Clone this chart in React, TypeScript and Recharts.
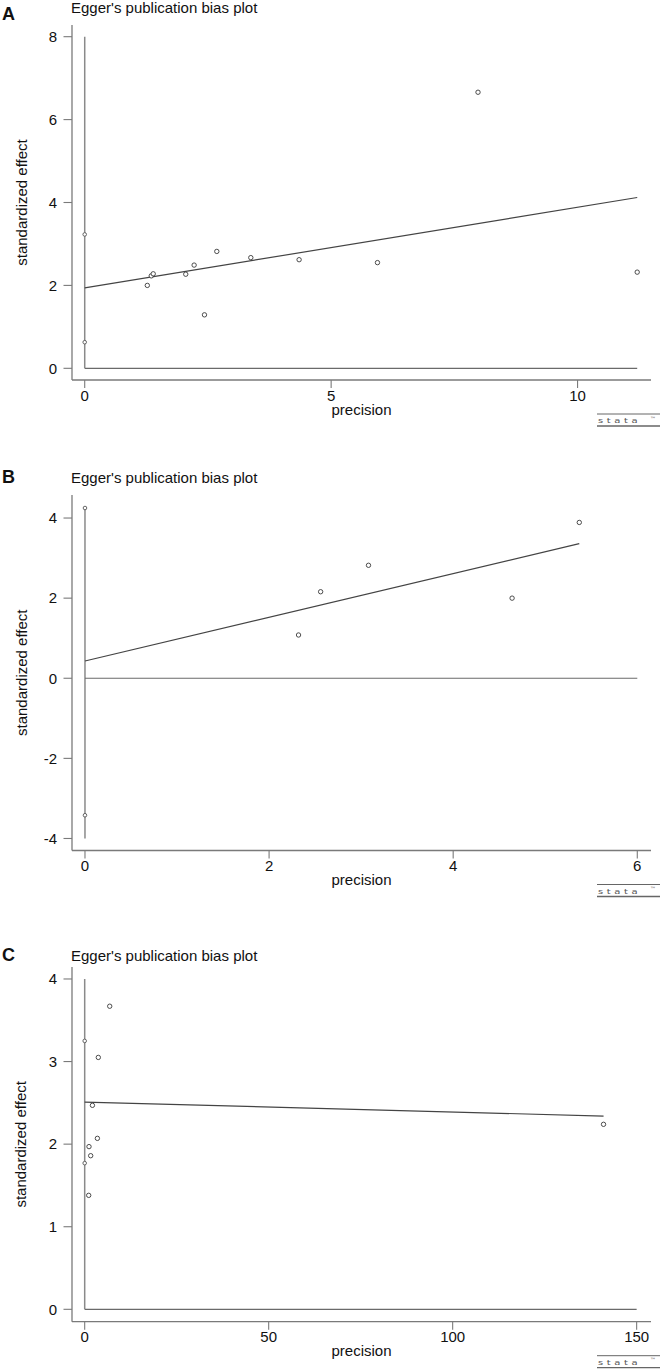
import React from 'react';
import { ScatterChart, Scatter, XAxis, YAxis, ReferenceLine } from 'recharts';

const FONT = '"Liberation Sans", Arial, Helvetica, sans-serif';
const AXIS = '#7a7a7a';

// Panel A
const aPrecision = [1.27, 1.35, 1.39, 2.05, 2.22, 2.43, 2.68, 3.37, 4.35, 5.94, 7.98, 11.21];
const aEffect = [2.0, 2.23, 2.28, 2.27, 2.49, 1.29, 2.82, 2.67, 2.62, 2.55, 6.66, 2.32];
const aCI = [0.63, 3.23];
const aFitX = [0, 11.21];
const aFitY = [1.94, 4.12];
const aXTicks = [0, 5, 10];
const aYTicks = [0, 2, 4, 6, 8];

// Panel B
const bPrecision = [2.32, 2.56, 3.08, 4.64, 5.37];
const bEffect = [1.08, 2.16, 2.82, 2.0, 3.89];
const bCI = [-3.42, 4.25];
const bFitX = [0, 5.37];
const bFitY = [0.43, 3.36];
const bXTicks = [0, 2, 4, 6];
const bYTicks = [-4, -2, 0, 2, 4];

// Panel C
const cPrecision = [6.8, 3.7, 2.1, 3.45, 1.17, 1.63, 1.09, 141];
const cEffect = [3.67, 3.05, 2.47, 2.07, 1.97, 1.86, 1.38, 2.24];
const cCI = [1.77, 3.25];
const cFitX = [0, 141];
const cFitY = [2.51, 2.34];
const cXTicks = [0, 50, 100, 150];
const cYTicks = [0, 1, 2, 3, 4];

const TITLE = "Egger's publication bias plot";

type Panel = {
  letter: string;
  chartTop: number;
  chartHeight: number;
  plotTop: number;
  plotBottom: number;
  titleBase: number;
  letterBase: number;
  xDomain: [number, number];
  yDomain: [number, number];
  xTicks: number[];
  yTicks: number[];
  precision: number[];
  effect: number[];
  ci: number[];
  fitX: number[];
  fitY: number[];
  vSpan: [number, number];
  hSpan: [number, number];
};

const panels: Panel[] = [
  {
    letter: 'A', chartTop: 0, chartHeight: 470, plotTop: 25, plotBottom: 380,
    titleBase: 13, letterBase: 19.5,
    xDomain: [-0.258, 11.49], yDomain: [-0.282, 8.282],
    xTicks: aXTicks, yTicks: aYTicks,
    precision: aPrecision, effect: aEffect, ci: aCI, fitX: aFitX, fitY: aFitY,
    vSpan: [0, 8], hSpan: [0, 11.21],
  },
  {
    letter: 'B', chartTop: 470, chartHeight: 471, plotTop: 25, plotBottom: 380.5,
    titleBase: 483.3, letterBase: 483.3,
    xDomain: [-0.141, 6.149], yDomain: [-4.3, 4.575],
    xTicks: bXTicks, yTicks: bYTicks,
    precision: bPrecision, effect: bEffect, ci: bCI, fitX: bFitX, fitY: bFitY,
    vSpan: [-4, 4.25], hSpan: [0, 6],
  },
  {
    letter: 'C', chartTop: 941, chartHeight: 428, plotTop: 26, plotBottom: 380.7,
    titleBase: 960.5, letterBase: 960.5,
    xDomain: [-3.45, 153.9], yDomain: [-0.15, 4.145],
    xTicks: cXTicks, yTicks: cYTicks,
    precision: cPrecision, effect: cEffect, ci: cCI, fitX: cFitX, fitY: cFitY,
    vSpan: [0, 4], hSpan: [0, 150],
  },
];

const OpenCircle = (props: any) => {
  const { cx, cy } = props;
  if (cx == null || cy == null) return null;
  return <circle cx={cx} cy={cy} r={2.2} fill="#fff" stroke="#3a3a3a" strokeWidth={0.9} />;
};

const CiMark = (props: any) => {
  const { cx, cy } = props;
  if (cx == null || cy == null) return null;
  return <circle cx={cx} cy={cy} r={1.8} fill="#fff" stroke="#555" strokeWidth={0.9} />;
};

const tickStyle = { fill: '#111', fontSize: 15, fontFamily: FONT };

function EggerPanel({ p }: { p: Panel }) {
  const points = p.precision.map((x, i) => ({ x, y: p.effect[i] }));
  const ciPoints = p.ci.map((y) => ({ x: 0, y }));
  const xAxisH = 45;
  return (
    <div style={{ position: 'absolute', left: 0, top: p.chartTop }}>
      <ScatterChart
        width={661}
        height={p.chartHeight}
        margin={{ top: p.plotTop, right: 10, left: 0, bottom: p.chartHeight - p.plotBottom - xAxisH }}
      >
        <XAxis
          type="number"
          dataKey="x"
          domain={p.xDomain}
          ticks={p.xTicks}
          interval={0}
          allowDataOverflow
          height={xAxisH}
          tickSize={8}
          tickMargin={2}
          axisLine={{ stroke: AXIS, strokeWidth: 1.3 }}
          tickLine={{ stroke: AXIS, strokeWidth: 1.1 }}
          tick={tickStyle}
        />
        <YAxis
          type="number"
          dataKey="y"
          domain={p.yDomain}
          ticks={p.yTicks}
          interval={0}
          allowDataOverflow
          width={72}
          tickSize={8.5}
          tickMargin={6.5}
          axisLine={{ stroke: AXIS, strokeWidth: 1.3 }}
          tickLine={{ stroke: AXIS, strokeWidth: 1.1 }}
          tick={tickStyle}
        />
        <ReferenceLine
          segment={[{ x: 0, y: p.vSpan[0] }, { x: 0, y: p.vSpan[1] }]}
          stroke="#8a8a8a"
          strokeWidth={1.5}
        />
        <ReferenceLine
          segment={[{ x: p.hSpan[0], y: 0 }, { x: p.hSpan[1], y: 0 }]}
          stroke="#6a6a6a"
          strokeWidth={1.2}
        />
        <ReferenceLine
          segment={[{ x: p.fitX[0], y: p.fitY[0] }, { x: p.fitX[1], y: p.fitY[1] }]}
          stroke="#444"
          strokeWidth={1.2}
        />
        <Scatter data={ciPoints} shape={CiMark} isAnimationActive={false} />
        <Scatter data={points} shape={OpenCircle} isAnimationActive={false} />
      </ScatterChart>
    </div>
  );
}

export default function App() {
  return (
    <div style={{ position: 'relative', width: 661, height: 1369, background: '#fff', overflow: 'hidden' }}>
      <style>{'body{margin:0;background:#fff}'}</style>
      {panels.map((p) => (
        <EggerPanel key={p.letter} p={p} />
      ))}
      <svg
        width={661}
        height={1369}
        style={{ position: 'absolute', left: 0, top: 0, pointerEvents: 'none' }}
        fontFamily={FONT}
      >
        {panels.map((p) => {
          const axisY = p.chartTop + p.plotBottom;
          const midY = p.chartTop + (p.plotTop + p.plotBottom) / 2;
          return (
            <g key={p.letter}>
              <text x={2} y={p.letterBase} fontSize={18} fontWeight="bold" fill="#111">
                {p.letter}
              </text>
              <text x={71} y={p.titleBase} fontSize={15} fill="#111">
                {TITLE}
              </text>
              <text
                x={26.5}
                y={midY}
                fontSize={15}
                fill="#111"
                textAnchor="middle"
                transform={`rotate(-90, 26.5, ${midY})`}
              >
                standardized effect
              </text>
              <text x={361.5} y={axisY + 34.5} fontSize={15} fill="#111" textAnchor="middle">
                precision
              </text>
              {/* stata logo */}
              <line x1={597} x2={660} y1={axisY + 34} y2={axisY + 34} stroke="#666" strokeWidth={1} />
              <text
                x={598}
                y={axisY + 43.5}
                fontSize={10}
                letterSpacing={3.6}
                fill="#555"
                fontFamily='"DejaVu Sans", sans-serif'
                transform={`translate(0, ${axisY + 43.5}) scale(1, 0.75) translate(0, ${-(axisY + 43.5)})`}
              >
                stata
              </text>
              <text x={650} y={axisY + 40.5} fontSize={6} fill="#555" fontFamily='"DejaVu Sans", sans-serif'>
                ™
              </text>
              <line x1={597} x2={660} y1={axisY + 46} y2={axisY + 46} stroke="#666" strokeWidth={1.3} />
            </g>
          );
        })}
      </svg>
    </div>
  );
}
